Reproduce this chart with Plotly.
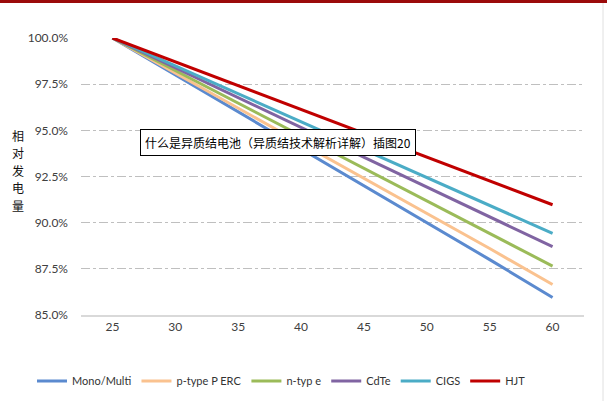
import plotly.graph_objects as go

temps = [25, 30, 35, 40, 45, 50, 55, 60]
mono_multi = [100.0, 98.0, 96.0, 94.0, 92.0, 90.0, 88.0, 85.95]
p_type_perc = [100.0, 98.1, 96.2, 94.3, 92.4, 90.5, 88.6, 86.65]
n_type = [100.0, 98.23, 96.46, 94.69, 92.92, 91.15, 89.38, 87.65]
cdte = [100.0, 98.39, 96.78, 95.17, 93.56, 91.95, 90.34, 88.7]
cigs = [100.0, 98.49, 96.98, 95.47, 93.96, 92.45, 90.94, 89.42]
hjt = [100.0, 98.71, 97.42, 96.13, 94.84, 93.55, 92.26, 90.97]

series_names = ["Mono/Multi", "p-type P ERC", "n-typ e", "CdTe", "CIGS", "HJT"]
series_values = [mono_multi, p_type_perc, n_type, cdte, cigs, hjt]
colors = ["#5B8ACF", "#FAC28F", "#9BBB59", "#8064A2", "#4BACC6", "#C00000"]
y_ticks = [85.0, 87.5, 90.0, 92.5, 95.0, 97.5, 100.0]
y_title_chars = ["相", "对", "发", "电", "量"]

W, H = 607, 401
L, R, T, B = 81, 23, 38, 86
PW, PH = W - L - R, H - T - B

def px_x(x):
    return (x - L) / PW

def px_y(y):
    return (H - B - y) / PH

fig = go.Figure()
for name, vals, col in zip(series_names, series_values, colors):
    fig.add_trace(go.Scatter(x=temps, y=vals, mode="lines", name=name,
                             line=dict(color=col, width=3)))

font_family = "Lato, Open Sans, Liberation Sans, sans-serif"
fig.update_layout(
    width=W, height=H,
    margin=dict(l=L, r=R, t=T, b=B, autoexpand=False),
    paper_bgcolor="white", plot_bgcolor="white",
    font=dict(family=font_family, size=12, color="#404040"),
    showlegend=True,
    legend=dict(orientation="h", x=px_x(32), xanchor="left", y=px_y(381), yanchor="middle",
                font=dict(size=11, color="#333333"), tracegroupgap=0),
    xaxis=dict(range=[22.5, 62.5], tickvals=temps, ticktext=[str(t) for t in temps],
               showgrid=False, zeroline=False, showline=True, linecolor="#D9D9D9",
               linewidth=2, ticks="", fixedrange=True, automargin=False),
    yaxis=dict(range=[85, 100], tickvals=y_ticks,
               ticktext=[f"{v:.1f}%" for v in y_ticks],
               showgrid=True, gridcolor="#BFBFBF", griddash="dashdot", gridwidth=1,
               zeroline=False, showline=False, ticks="", ticklabelstandoff=12,
               fixedrange=True, automargin=False),
)

# Vertical y-axis title (stacked characters)
for i, ch in enumerate(y_title_chars):
    fig.add_annotation(text=ch, xref="paper", yref="paper",
                       x=px_x(18), y=px_y(135 + i * 17.5), xanchor="center", yanchor="middle",
                       showarrow=False,
                       font=dict(family="Noto Sans CJK SC", size=12, color="#111111"))

# Caption box over the chart
fig.add_annotation(text="什么是异质结电池（异质结技术解析详解）插图20",
                   xref="paper", yref="paper", x=px_x(278), y=px_y(142),
                   xanchor="center", yanchor="middle", showarrow=False,
                   font=dict(family="Noto Sans CJK SC", size=12, color="#000000"),
                   bgcolor="white", bordercolor="#000000", borderwidth=1, borderpad=4)

# Top dark red band and right gray border
fig.add_shape(type="rect", xref="paper", yref="paper", x0=px_x(0), x1=px_x(W),
              y0=px_y(3), y1=px_y(-2),
              fillcolor="#9B0A0A", line=dict(width=0), layer="above")
fig.add_shape(type="line", xref="paper", yref="paper",
              x0=px_x(603), x1=px_x(603), y0=px_y(H), y1=px_y(3),
              line=dict(color="#E0E0E0", width=1))

fig.write_html("out.html", config={"displayModeBar": False},
               post_script="document.body.style.margin='0';document.body.style.overflow='hidden';")
